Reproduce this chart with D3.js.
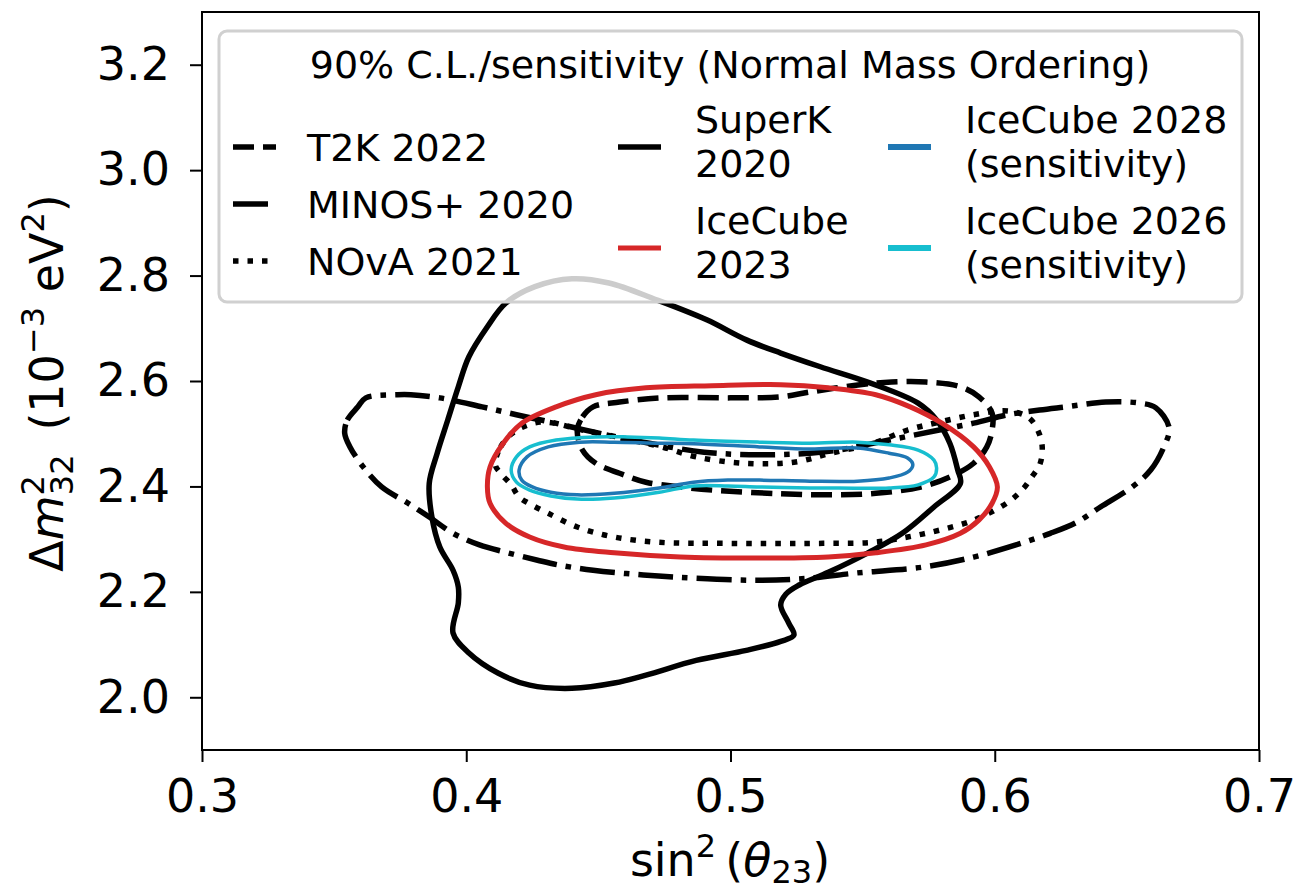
<!DOCTYPE html>
<html>
<head>
<meta charset="utf-8">
<script src="https://cdn.jsdelivr.net/npm/d3@7"></script>
<style>
  body { margin: 0; background: #fff; }
  text { font-family: "DejaVu Sans", sans-serif; }
</style>
</head>
<body>
<svg id="chart" width="1296" height="895"></svg>
<script>
// axis ticks
const xTicks = [0.3, 0.4, 0.5, 0.6, 0.7];
const yTicks = [2.0, 2.2, 2.4, 2.6, 2.8, 3.0, 3.2];

// 90% contours, [sin^2(theta23), dm2_32 in 1e-3 eV^2]
const superK2020 = [[0.440,2.794],[0.454,2.786],[0.472,2.754],[0.491,2.716],[0.506,2.678],[0.519,2.653],[0.534,2.627],[0.553,2.596],[0.571,2.558],[0.578,2.526],[0.583,2.482],[0.586,2.431],[0.587,2.406],[0.577,2.361],[0.565,2.311],[0.552,2.274],[0.537,2.237],[0.526,2.213],[0.521,2.196],[0.519,2.175],[0.522,2.141],[0.524,2.118],[0.519,2.106],[0.506,2.089],[0.487,2.070],[0.468,2.042],[0.456,2.027],[0.440,2.017],[0.424,2.023],[0.412,2.046],[0.401,2.084],[0.395,2.122],[0.397,2.179],[0.397,2.209],[0.395,2.241],[0.390,2.285],[0.387,2.342],[0.386,2.406],[0.389,2.463],[0.393,2.526],[0.397,2.589],[0.401,2.646],[0.408,2.703],[0.415,2.748],[0.426,2.779]];

const t2k2022 = [[0.442,2.507],[0.444,2.532],[0.448,2.551],[0.458,2.560],[0.474,2.568],[0.500,2.568],[0.519,2.570],[0.530,2.579],[0.549,2.593],[0.561,2.598],[0.574,2.598],[0.587,2.589],[0.594,2.570],[0.599,2.539],[0.599,2.507],[0.597,2.475],[0.592,2.444],[0.583,2.418],[0.572,2.399],[0.555,2.387],[0.537,2.384],[0.519,2.386],[0.493,2.393],[0.481,2.399],[0.468,2.408],[0.458,2.425],[0.449,2.444],[0.444,2.469]];

const minosPlus2020 = [[0.354,2.501],[0.355,2.526],[0.359,2.551],[0.362,2.568],[0.374,2.574],[0.379,2.574],[0.390,2.568],[0.406,2.551],[0.419,2.536],[0.432,2.522],[0.443,2.509],[0.467,2.484],[0.490,2.465],[0.511,2.460],[0.530,2.463],[0.541,2.469],[0.560,2.488],[0.579,2.507],[0.592,2.520],[0.605,2.536],[0.617,2.545],[0.627,2.551],[0.642,2.560],[0.655,2.558],[0.661,2.549],[0.666,2.511],[0.664,2.475],[0.659,2.431],[0.652,2.399],[0.640,2.361],[0.631,2.332],[0.621,2.311],[0.608,2.289],[0.592,2.266],[0.573,2.247],[0.548,2.236],[0.530,2.226],[0.511,2.222],[0.486,2.226],[0.467,2.232],[0.448,2.241],[0.435,2.251],[0.427,2.260],[0.415,2.275],[0.405,2.289],[0.395,2.311],[0.386,2.342],[0.378,2.368],[0.368,2.399],[0.361,2.437],[0.356,2.475]];

const nova2021 = [[0.411,2.441],[0.413,2.475],[0.418,2.503],[0.428,2.522],[0.444,2.507],[0.462,2.488],[0.474,2.475],[0.487,2.456],[0.505,2.444],[0.524,2.446],[0.538,2.463],[0.554,2.482],[0.567,2.507],[0.579,2.522],[0.592,2.536],[0.605,2.543],[0.613,2.530],[0.617,2.498],[0.618,2.469],[0.617,2.441],[0.614,2.418],[0.611,2.397],[0.605,2.370],[0.592,2.336],[0.579,2.317],[0.567,2.304],[0.554,2.294],[0.535,2.292],[0.499,2.292],[0.473,2.294],[0.456,2.304],[0.442,2.323],[0.431,2.349],[0.424,2.367],[0.420,2.380],[0.417,2.403],[0.413,2.425]];

const iceCube2023 = [[0.408,2.399],[0.409,2.437],[0.414,2.482],[0.421,2.520],[0.434,2.551],[0.449,2.574],[0.468,2.587],[0.493,2.591],[0.519,2.593],[0.537,2.587],[0.555,2.574],[0.568,2.551],[0.580,2.520],[0.592,2.475],[0.598,2.437],[0.601,2.399],[0.599,2.368],[0.594,2.336],[0.587,2.311],[0.574,2.289],[0.555,2.274],[0.537,2.266],[0.511,2.264],[0.481,2.266],[0.456,2.274],[0.437,2.285],[0.424,2.304],[0.415,2.330],[0.409,2.368]];

const iceCube2028 = [[0.420,2.431],[0.423,2.456],[0.431,2.475],[0.443,2.484],[0.456,2.484],[0.473,2.482],[0.486,2.481],[0.511,2.475],[0.530,2.471],[0.548,2.473],[0.560,2.463],[0.567,2.454],[0.569,2.441],[0.567,2.427],[0.560,2.416],[0.548,2.410],[0.530,2.410],[0.511,2.412],[0.499,2.412],[0.486,2.408],[0.473,2.397],[0.456,2.387],[0.442,2.384],[0.432,2.389],[0.425,2.399],[0.421,2.412]];

const iceCube2026 = [[0.417,2.431],[0.419,2.456],[0.424,2.475],[0.434,2.488],[0.449,2.494],[0.461,2.494],[0.473,2.492],[0.486,2.488],[0.511,2.484],[0.530,2.482],[0.548,2.484],[0.560,2.479],[0.571,2.469],[0.577,2.450],[0.578,2.435],[0.577,2.418],[0.571,2.403],[0.560,2.397],[0.541,2.397],[0.530,2.397],[0.511,2.399],[0.499,2.401],[0.486,2.401],[0.473,2.389],[0.456,2.378],[0.442,2.376],[0.432,2.382],[0.424,2.393],[0.419,2.408]];

const legendTitle = "90% C.L./sensitivity (Normal Mass Ordering)";
const legendLabels = {
  t2k: ["T2K 2022"],
  minos: ["MINOS+ 2020"],
  nova: ["NOvA 2021"],
  superk: ["SuperK", "2020"],
  ic2023: ["IceCube", "2023"],
  ic2028: ["IceCube 2028", "(sensitivity)"],
  ic2026: ["IceCube 2026", "(sensitivity)"]
};

const svg = d3.select("#chart");
const plotLeft = 202, plotRight = 1259, plotTop = 12, plotBottom = 750;

const x = d3.scaleLinear().domain([0.3, 0.7]).range([plotLeft, plotRight]);
const y = d3.scaleLinear().domain([1.9, 3.3]).range([plotBottom, plotTop]);

const smooth = d3.line().x(d => x(d[0])).y(d => y(d[1])).curve(d3.curveCatmullRomClosed.alpha(0.5));

const styles = {
  superk: { stroke: "#000", width: 5.5, dash: null },
  t2k:    { stroke: "#000", width: 5.5, dash: "21,9" },
  minos:  { stroke: "#000", width: 5.5, dash: "35,9,5.5,9" },
  nova:   { stroke: "#000", width: 5.5, dash: "5.5,9" },
  ic2023: { stroke: "#d62728", width: 5, dash: null },
  ic2028: { stroke: "#1f77b4", width: 3.5, dash: null },
  ic2026: { stroke: "#17becf", width: 3.5, dash: null }
};

svg.append("clipPath").attr("id", "plot")
  .append("rect").attr("x", plotLeft).attr("y", plotTop)
  .attr("width", plotRight - plotLeft).attr("height", plotBottom - plotTop);

const contours = [
  ["superk", superK2020],
  ["t2k", t2k2022],
  ["minos", minosPlus2020],
  ["nova", nova2021],
  ["ic2023", iceCube2023],
  ["ic2028", iceCube2028],
  ["ic2026", iceCube2026]
];

const g = svg.append("g").attr("clip-path", "url(#plot)");
contours.forEach(([key, data]) => {
  const s = styles[key];
  g.append("path")
    .attr("d", smooth(data))
    .attr("fill", "none")
    .attr("stroke", s.stroke)
    .attr("stroke-width", s.width)
    .attr("stroke-dasharray", s.dash)
    .attr("stroke-linejoin", "round");
});

// axes
const xAxis = svg.append("g")
  .attr("transform", "translate(0," + plotBottom + ")")
  .call(d3.axisBottom(x).tickValues(xTicks).tickFormat(d3.format(".1f")).tickSize(12).tickPadding(17));
const yAxis = svg.append("g")
  .attr("transform", "translate(" + plotLeft + ",0)")
  .call(d3.axisLeft(y).tickValues(yTicks).tickFormat(d3.format(".1f")).tickSize(12).tickPadding(20));

[xAxis, yAxis].forEach(a => {
  a.select(".domain").remove();
  a.selectAll(".tick line").attr("stroke", "#000").attr("stroke-width", 2);
  a.selectAll(".tick text").attr("fill", "#000")
    .style("font-family", "'DejaVu Sans', sans-serif").style("font-size", "46px");
});

svg.append("rect")
  .attr("x", plotLeft).attr("y", plotTop)
  .attr("width", plotRight - plotLeft).attr("height", plotBottom - plotTop)
  .attr("fill", "none").attr("stroke", "#000").attr("stroke-width", 2);

// axis labels
const xl = svg.append("text")
  .attr("x", 730).attr("y", 876)
  .attr("text-anchor", "middle")
  .style("font-size", "46px");
xl.append("tspan").text("sin");
xl.append("tspan").attr("font-size", 32).attr("dy", -19).text("2");
xl.append("tspan").attr("dy", 19).text("\u2009(");
xl.append("tspan").attr("font-style", "italic").text("θ");
xl.append("tspan").attr("font-size", 32).attr("dy", 7).text("23");
xl.append("tspan").attr("dy", -7).text(")");

const yl = svg.append("text")
  .attr("transform", "translate(63,383) rotate(-90)")
  .attr("text-anchor", "middle")
  .style("font-size", "46px");
yl.append("tspan").text("Δ");
yl.append("tspan").attr("font-style", "italic").text("m");
yl.append("tspan").attr("font-size", 32).attr("dy", -19).text("2");
yl.append("tspan").attr("font-size", 32).attr("dx", -20).attr("dy", 29).text("32");
yl.append("tspan").attr("dy", -10).text("\u2009 (10");
yl.append("tspan").attr("font-size", 32).attr("dy", -19).text("−3");
yl.append("tspan").attr("dy", 19).text(" eV");
yl.append("tspan").attr("font-size", 32).attr("dy", -19).text("2");
yl.append("tspan").attr("dy", 19).text(")");

// legend
const lg = svg.append("g");
lg.append("rect")
  .attr("x", 219).attr("y", 31)
  .attr("width", 1023).attr("height", 271)
  .attr("rx", 8)
  .attr("fill", "#fff").attr("fill-opacity", 0.8)
  .attr("stroke", "#d0d0d0").attr("stroke-width", 3);

lg.append("text")
  .attr("x", 730).attr("y", 78)
  .attr("text-anchor", "middle")
  .style("font-size", "38px")
  .text(legendTitle);

const legendSlots = [
  { key: "t2k",    hx: 233, tx: 307, hy: 147 },
  { key: "minos",  hx: 233, tx: 307, hy: 204 },
  { key: "nova",   hx: 233, tx: 307, hy: 261 },
  { key: "superk", hx: 618, tx: 695, hy: 147 },
  { key: "ic2023", hx: 618, tx: 695, hy: 248 },
  { key: "ic2028", hx: 888, tx: 965, hy: 147 },
  { key: "ic2026", hx: 888, tx: 965, hy: 248 }
];

legendSlots.forEach(slot => {
  const s = styles[slot.key];
  lg.append("line")
    .attr("x1", slot.hx).attr("x2", slot.hx + 43)
    .attr("y1", slot.hy).attr("y2", slot.hy)
    .attr("stroke", s.stroke)
    .attr("stroke-width", s.width < 5 ? 6 : s.width)
    .attr("stroke-dasharray", s.dash);
  const lines = legendLabels[slot.key];
  const first = lines.length === 1 ? slot.hy + 14 : slot.hy - 14;
  lines.forEach((t, i) => {
    lg.append("text")
      .attr("x", slot.tx).attr("y", first + i * 44)
      .style("font-size", "38px")
      .text(t);
  });
});
</script>
</body>
</html>
